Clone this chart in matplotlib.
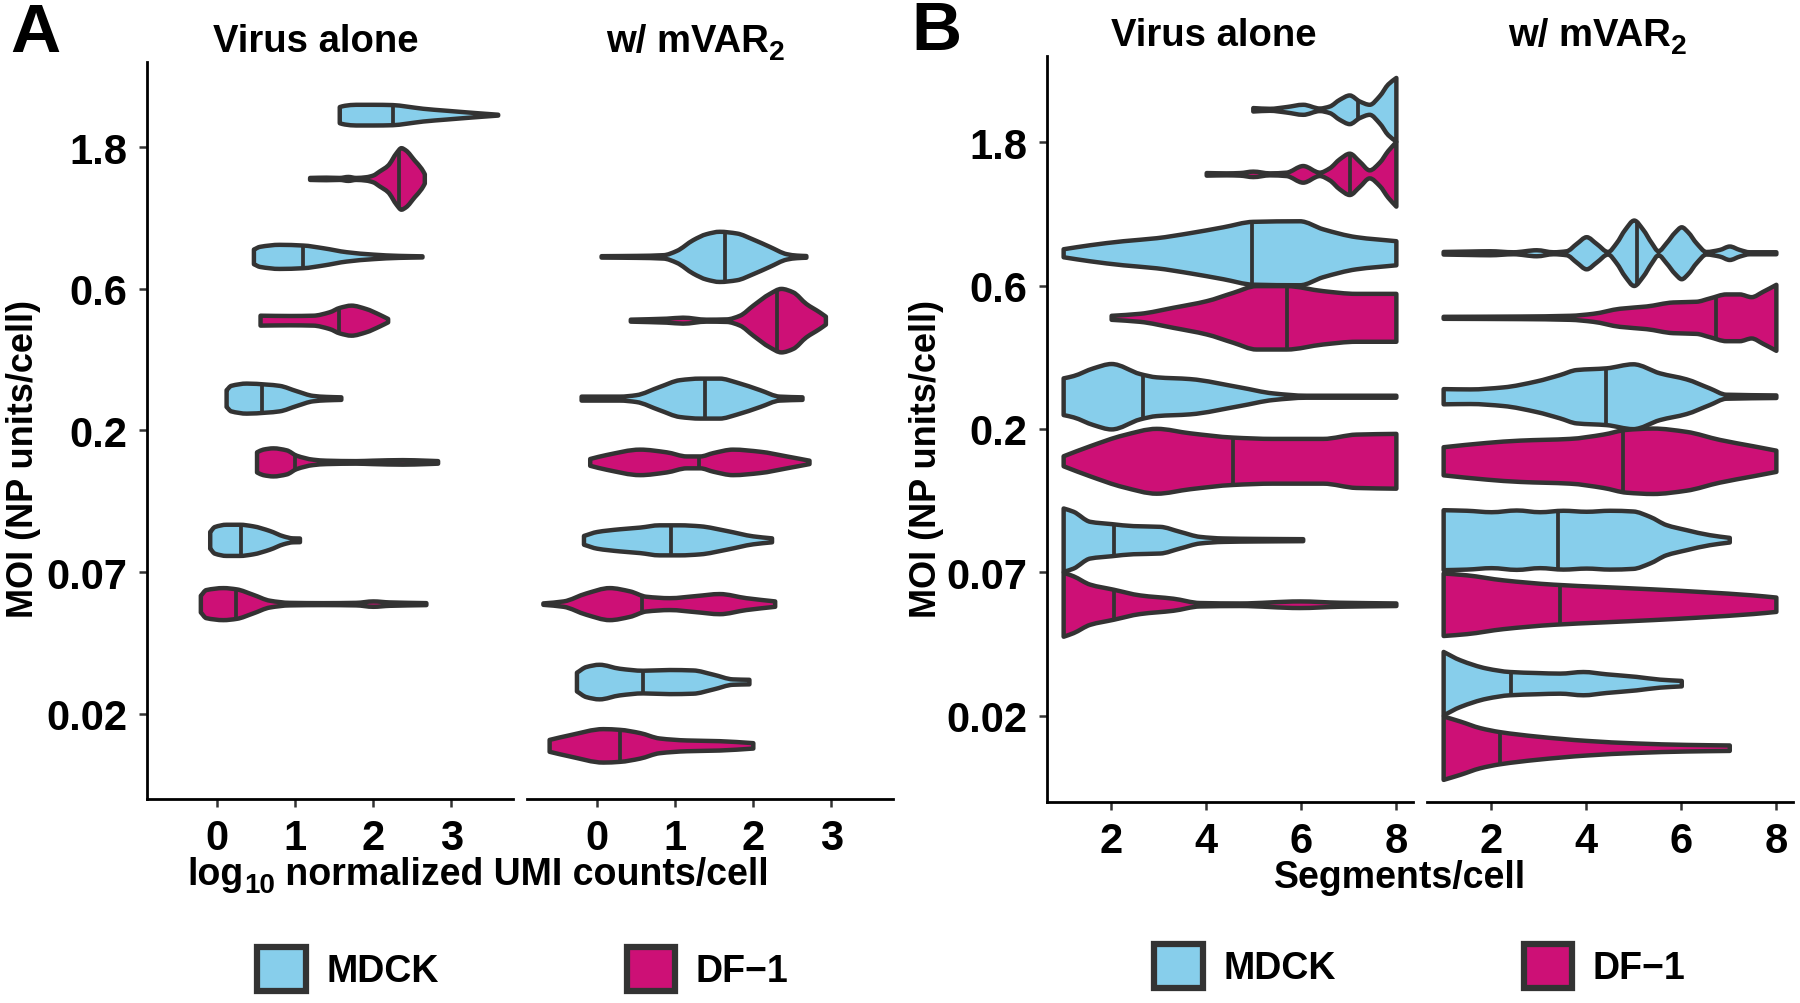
import matplotlib
matplotlib.use('Agg')
import numpy as np
import matplotlib.pyplot as plt
from matplotlib.patches import Patch, PathPatch
from matplotlib.path import Path

plt.rcParams['font.family'] = ['Liberation Sans', 'DejaVu Sans']
plt.rcParams['font.weight'] = 'bold'

# ---- data (violin outlines: (x, half width in category units)) ----
moi_labels = ['0.02', '0.07', '0.2', '0.6', '1.8']
cells = ['MDCK', 'DF\u22121']
colors = ['#87CEEB', '#CD1076']
EDGE = '#333333'

# A: log10 normalized UMI counts/cell, virus alone
umi_alone_mdck = {
    '1.8': [(1.57, .057), (1.635, .066), (1.78, .073), (2.0, .073), (2.25, .071), (2.42, .061),
            (2.64, .045), (2.94, .031), (3.28, .016), (3.45, .009), (3.60, .003)],
    '0.6': [(0.47, .052), (0.55, .071), (0.80, .085), (1.10, .080), (1.36, .061), (1.66, .033),
            (2.0, .016), (2.33, .007), (2.63, .004)],
    '0.2': [(0.12, .059), (0.18, .09), (0.38, .106), (0.63, .099), (0.80, .09), (1.02, .052),
            (1.23, .019), (1.40, .012), (1.59, .009)],
    '0.07': [(-0.09, .059), (-0.03, .094), (0.12, .11), (0.29, .11), (0.46, .099), (0.675, .066),
             (0.85, .028), (0.97, .014), (1.06, .013)],
}
umi_alone_mdck_med = {'1.8': 2.25, '0.6': 1.10, '0.2': 0.58, '0.07': 0.31}

umi_alone_df1 = {
    '1.8': [(1.19, .007), (1.40, .009), (1.57, .007), (1.68, .014), (1.78, .007), (1.91, .012),
            (2.0, .024), (2.08, .052), (2.19, .094), (2.30, .184), (2.36, .217), (2.42, .20),
            (2.53, .13), (2.62, .071), (2.66, .033)],
    '0.6': [(0.555, .035), (0.93, .033), (1.23, .035), (1.44, .059), (1.57, .09), (1.72, .106),
            (1.91, .082), (2.08, .042), (2.19, .012)],
    '0.2': [(0.51, .071), (0.59, .09), (0.72, .099), (0.89, .085), (1.02, .047), (1.23, .019),
            (1.40, .012), (1.78, .009), (1.99, .012), (2.38, .016), (2.68, .012), (2.83, .009)],
    '0.07': [(-0.21, .059), (-0.14, .099), (0.08, .113), (0.25, .104), (0.46, .066), (0.675, .024),
             (0.93, .009), (1.36, .007), (1.78, .009), (2.0, .019), (2.21, .012), (2.68, .007)],
}
umi_alone_df1_med = {'1.8': 2.33, '0.6': 1.56, '0.2': 1.0, '0.07': 0.24}

# A: w/ mVAR2
umi_mvar_mdck = {
    '0.6': [(0.056, .005), (0.51, .007), (0.85, .012), (1.02, .042), (1.23, .118), (1.40, .16),
            (1.57, .177), (1.79, .165), (2.0, .122), (2.21, .071), (2.43, .019), (2.56, .009),
            (2.68, .006)],
    '0.2': [(-0.2, .014), (0.29, .014), (0.5, .024), (0.80, .082), (1.06, .13), (1.32, .141),
            (1.57, .141), (1.79, .113), (2.09, .059), (2.34, .014), (2.63, .009)],
    '0.07': [(-0.17, .031), (0.0, .059), (0.29, .078), (0.55, .09), (0.80, .106), (1.06, .106),
             (1.32, .099), (1.66, .066), (2.0, .028), (2.24, .014)],
    '0.02': [(-0.26, .066), (-0.14, .106), (0.03, .122), (0.29, .094), (0.59, .08), (0.93, .085),
             (1.23, .082), (1.49, .052), (1.74, .019), (1.95, .016)],
}
umi_mvar_mdck_med = {'0.6': 1.64, '0.2': 1.38, '0.07': 0.94, '0.02': 0.59}

umi_mvar_df1 = {
    '0.6': [(0.43, .007), (0.89, .014), (1.10, .021), (1.40, .007), (1.66, .009), (1.83, .035),
            (2.0, .106), (2.21, .188), (2.36, .224), (2.51, .2), (2.68, .118), (2.85, .059),
            (2.93, .028)],
    '0.2': [(-0.09, .024), (0.12, .052), (0.55, .09), (0.89, .071), (1.15, .042), (1.32, .042),
            (1.49, .066), (1.74, .09), (2.09, .075), (2.43, .042), (2.72, .012)],
    '0.07': [(-0.69, .005), (-0.43, .019), (-0.14, .075), (0.16, .113), (0.42, .09), (0.63, .052),
             (0.93, .042), (1.27, .057), (1.57, .071), (1.91, .042), (2.28, .019)],
    '0.02': [(-0.61, .042), (-0.35, .075), (0.08, .118), (0.29, .113), (0.55, .09), (0.80, .052),
             (1.15, .038), (1.57, .033), (2.0, .019)],
}
umi_mvar_df1_med = {'0.6': 2.30, '0.2': 1.31, '0.07': 0.58, '0.02': 0.29}

# B: segments/cell, virus alone
seg_alone_mdck = {
    '1.8': [(4.99, .012), (5.34, .007), (5.69, .019), (6.04, .035), (6.39, .009), (6.6, .023),
            (6.81, .07), (7.02, .1), (7.23, .058), (7.44, .035), (7.65, .095), (7.83, .177),
            (8.0, .222)],
    '0.6': [(1.0, .028), (1.56, .056), (2.26, .084), (2.96, .105), (3.66, .14), (4.36, .181),
            (4.99, .219), (5.97, .223), (6.46, .167), (7.16, .112), (8.0, .084)],
    '0.2': [(1.0, .128), (1.21, .144), (1.63, .198), (2.01, .228), (2.61, .158), (2.96, .135),
            (3.66, .123), (4.71, .065), (5.41, .023), (6.11, .007), (8.0, .007)],
    '0.07': [(1.0, .221), (1.21, .198), (1.56, .128), (2.01, .112), (2.47, .098), (3.03, .093),
             (3.45, .058), (3.87, .023), (4.36, .012), (5.06, .009), (6.04, .007)],
}
seg_alone_mdck_med = {'1.8': 7.2, '0.6': 4.96, '0.2': 2.68, '0.07': 2.05}

seg_alone_df1 = {
    '1.8': [(4.01, .009), (4.43, .007), (4.71, .009), (4.99, .019), (5.34, .007), (5.69, .012),
            (6.04, .058), (6.39, .012), (6.6, .042), (6.81, .105), (7.02, .144), (7.23, .088),
            (7.44, .028), (7.65, .081), (7.83, .163), (8.0, .225)],
    '0.6': [(2.01, .014), (2.61, .028), (3.31, .07), (4.01, .116), (4.57, .174), (5.06, .221),
            (5.69, .221), (6.46, .186), (7.16, .167), (8.0, .167)],
    '0.2': [(1.0, .035), (1.56, .105), (2.26, .181), (2.96, .226), (3.66, .195), (4.57, .165),
            (5.41, .156), (6.46, .156), (7.16, .186), (8.0, .191)],
    '0.07': [(1.0, .223), (1.21, .198), (1.56, .14), (2.05, .105), (2.61, .065), (3.31, .042),
             (3.87, .012), (4.71, .009), (5.97, .023), (6.81, .014), (8.0, .009)],
}
seg_alone_df1_med = {'1.8': 7.02, '0.6': 5.69, '0.2': 4.56, '0.07': 2.05}

# B: w/ mVAR2
seg_mvar_mdck = {
    '0.6': [(1.0, .009), (1.56, .012), (1.98, .014), (2.47, .007), (2.96, .021), (3.31, .007),
            (3.59, .014), (3.80, .065), (4.01, .112), (4.22, .065), (4.46, .009), (4.64, .07),
            (4.82, .163), (5.01, .228), (5.20, .163), (5.38, .07), (5.52, .014), (5.69, .07),
            (5.87, .144), (6.01, .181), (6.15, .144), (6.32, .07), (6.53, .009), (6.81, .023),
            (7.02, .047), (7.23, .023), (7.44, .007), (8.0, .007)],
    '0.2': [(1.0, .053), (1.56, .051), (2.26, .065), (2.96, .107), (3.45, .151), (3.80, .186),
            (4.43, .198), (4.99, .226), (5.55, .163), (6.11, .121), (6.6, .058), (6.95, .014),
            (8.0, .009)],
    '0.07': [(1.0, .209), (1.49, .205), (2.01, .195), (2.54, .207), (3.03, .195), (3.52, .205),
             (4.01, .198), (4.5, .205), (4.99, .2), (5.34, .163), (5.69, .105), (6.11, .07),
             (6.6, .035), (7.02, .016)],
    '0.02': [(1.0, .221), (1.35, .163), (1.91, .105), (2.4, .081), (2.96, .074), (3.45, .07),
             (3.94, .081), (4.43, .065), (5.06, .047), (5.55, .028), (6.01, .019)],
}
seg_mvar_mdck_med = {'0.6': 5.06, '0.2': 4.42, '0.07': 3.4, '0.02': 2.41}

seg_mvar_df1 = {
    '0.6': [(1.0, .007), (2.61, .009), (3.66, .014), (4.15, .028), (4.71, .063), (5.27, .079),
            (5.83, .107), (6.32, .112), (6.6, .135), (6.95, .163), (7.23, .163), (7.48, .144),
            (7.72, .181), (8.0, .23)],
    '0.2': [(1.0, .098), (1.91, .128), (2.61, .144), (3.66, .156), (4.36, .186), (4.85, .219),
            (5.41, .228), (6.11, .205), (6.81, .149), (7.51, .105), (8.0, .074)],
    '0.07': [(1.0, .218), (1.49, .205), (2.26, .17), (3.31, .14), (4.36, .123), (5.41, .107),
             (6.46, .088), (7.51, .065), (8.0, .05)],
    '0.02': [(1.0, .221), (1.35, .186), (1.77, .14), (2.19, .112), (2.96, .081), (4.01, .051),
             (5.06, .033), (6.11, .023), (7.02, .019)],
}
seg_mvar_df1_med = {'0.6': 6.74, '0.2': 4.78, '0.07': 3.44, '0.02': 2.19}

DODGE = 0.225
LW = 3.2
W, H = 1800, 1004


def curve(xs, ys):
    # monotone cubic (bezier) segments through the outline knots
    h = np.diff(xs)
    d = np.diff(ys) / h
    m = np.zeros(len(ys))
    for i in range(1, len(ys) - 1):
        if d[i - 1] * d[i] > 0:
            m[i] = 2 / (1 / d[i - 1] + 1 / d[i])
    m[0], m[-1] = d[0], d[-1]
    verts = []
    for i in range(len(xs) - 1):
        verts += [(xs[i] + h[i] / 3, ys[i] + m[i] * h[i] / 3),
                  (xs[i + 1] - h[i] / 3, ys[i + 1] - m[i + 1] * h[i] / 3),
                  (xs[i + 1], ys[i + 1])]
    return verts


def violin(ax, outline, med, y, color):
    xs = np.array([p[0] for p in outline])
    ws = np.array([p[1] for p in outline])
    top = curve(xs, y + ws)
    bot = curve(xs[::-1], (y - ws)[::-1])
    verts = [(xs[0], y + ws[0])] + top + [(xs[-1], y - ws[-1])] + bot + [(xs[0], y + ws[0])]
    codes = ([Path.MOVETO] + [Path.CURVE4] * len(top) + [Path.LINETO]
             + [Path.CURVE4] * len(bot) + [Path.CLOSEPOLY])
    ax.add_patch(PathPatch(Path(verts, codes), facecolor=color, edgecolor=EDGE, lw=LW,
                           joinstyle='round', zorder=2))
    wm = np.interp(med, xs, ws)
    ax.plot([med, med], [y - wm, y + wm], color=EDGE, lw=LW * 0.85, solid_capstyle='butt', zorder=3)


def facet(rect, groups, xlim, xticks, first):
    l, r, t, b = rect
    ax = fig.add_axes([l / W, 1 - b / H, (r - l) / W, (b - t) / H])
    for k, (outlines, meds) in enumerate(groups):
        off = DODGE if k == 0 else -DODGE
        for lab, outline in outlines.items():
            violin(ax, outline, meds[lab], moi_labels.index(lab) + 1 + off, colors[k])
    ax.set_xlim(*xlim)
    ax.set_ylim(0.4, 5.6)
    ax.set_xticks(xticks)
    ax.set_xticklabels([str(v) for v in xticks])
    ax.spines['top'].set_visible(False)
    ax.spines['right'].set_visible(False)
    for s in ['left', 'bottom']:
        ax.spines[s].set_linewidth(2.0)
        ax.spines[s].set_color('black')
    ax.tick_params(axis='both', length=6, width=1.8, color=EDGE, labelsize=30, pad=8)
    if first:
        ax.set_yticks(range(1, 6))
        ax.set_yticklabels(moi_labels)
    else:
        ax.spines['left'].set_visible(False)
        ax.set_yticks([])
    for t_ in ax.get_xticklabels() + ax.get_yticklabels():
        t_.set_fontweight('bold')
    return ax


fig = plt.figure(figsize=(W / 100, H / 100), dpi=100)
renderer = fig.canvas.get_renderer()

# panel A
facet((147, 513, 63, 800), [(umi_alone_mdck, umi_alone_mdck_med), (umi_alone_df1, umi_alone_df1_med)],
      (-0.9, 3.79), [0, 1, 2, 3], True)
facet((527, 893, 63, 800), [(umi_mvar_mdck, umi_mvar_mdck_med), (umi_mvar_df1, umi_mvar_df1_med)],
      (-0.9, 3.79), [0, 1, 2, 3], False)
# panel B
facet((1047, 1413, 57, 803), [(seg_alone_mdck, seg_alone_mdck_med), (seg_alone_df1, seg_alone_df1_med)],
      (0.65, 8.35), [2, 4, 6, 8], True)
facet((1427, 1793, 57, 803), [(seg_mvar_mdck, seg_mvar_mdck_med), (seg_mvar_df1, seg_mvar_df1_med)],
      (0.65, 8.35), [2, 4, 6, 8], False)


def ftext(x, y, s, **kw):
    return fig.text(x / W, 1 - y / H, s, fontweight='bold', **kw)


def sub_text(xc, yb, parts, size):
    # parts: (text, is_subscript); laid out on one baseline, then centred on xc
    x = 0.0
    items = []
    for s, sub in parts:
        fs = size * 0.74 if sub else size
        dy = size * 0.3 if sub else 0
        t = ftext(x, yb + dy, s, fontsize=fs, ha='left', va='baseline')
        items.append(t)
        x = t.get_window_extent(renderer).x1
    shift = xc - x / 2
    for t in items:
        px, py = t.get_position()
        t.set_position((px + shift / W, py))


ftext(10, 52, 'A', fontsize=50, ha='left', va='baseline')
ftext(911, 50, 'B', fontsize=50, ha='left', va='baseline')
ftext(316, 52, 'Virus alone', fontsize=27.5, ha='center', va='baseline')
sub_text(695, 52, [('w/ mVAR', False), ('2', True)], 27.5)
ftext(1214, 46, 'Virus alone', fontsize=27.5, ha='center', va='baseline')
sub_text(1597, 46, [('w/ mVAR', False), ('2', True)], 27.5)
sub_text(478, 885, [('log', False), ('10', True), (' normalized UMI counts/cell', False)], 27)
ftext(1400, 888, 'Segments/cell', fontsize=27, ha='center', va='baseline')
ftext(24, 459, 'MOI (NP units/cell)', fontsize=26, ha='center', va='center', rotation=90)
ftext(926, 459, 'MOI (NP units/cell)', fontsize=26, ha='center', va='center', rotation=90)

handles = [Patch(facecolor=c, edgecolor=EDGE, lw=4.5) for c in colors]
for cx, cy in [(523, 970), (1420, 967)]:
    fig.legend(handles, cells, loc='center', bbox_to_anchor=(cx / W, 1 - cy / H), ncol=2,
               frameon=False, handlelength=1.3, handleheight=1.45,
               handletextpad=0.55, columnspacing=5.0, prop={'weight': 'bold', 'size': 27})

fig.savefig('out.png', dpi=100)
